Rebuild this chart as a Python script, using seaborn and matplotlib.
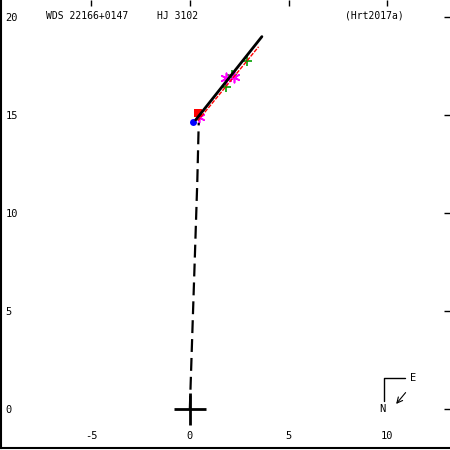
import matplotlib
matplotlib.use("Agg")
import matplotlib.pyplot as plt
import seaborn as sns
import pandas as pd

# ---- data ----
title_left = "WDS 22166+0147"
title_mid = "HJ 3102"
title_right = "(Hrt2017a)"

xticks = [-5, 0, 5, 10]
yticks = [0, 5, 10, 15, 20]

# dashed line from primary
dash_x = [0.0, 0.13, 0.25, 0.38, 0.45]
dash_y = [0.0, 4.0, 7.65, 11.7, 14.6]

# orbit (black) and alternative orbit (red)
orbit_x = [0.3, 3.65]
orbit_y = [14.75, 19.0]
orbit2_x = [0.4, 3.48]
orbit2_y = [14.7, 18.48]

# observations
green_x = [1.82, 2.12, 2.88]
green_y = [16.45, 17.05, 17.77]
mag_x = [1.82, 2.22, 0.45]
mag_y = [16.9, 16.95, 14.87]
red_x = [0.4]
red_y = [15.1]
blue_x = [0.15]
blue_y = [14.66]

sns.set_style("white")
plt.rcParams["font.family"] = ["DejaVu Sans Mono"]
plt.rcParams["text.color"] = "black"
plt.rcParams["xtick.color"] = "black"
plt.rcParams["ytick.color"] = "black"

fig = plt.figure(figsize=(4.5, 4.5), dpi=100)
ax = fig.add_axes([0.003, 0.005, 0.997, 0.995])

sns.lineplot(x=dash_x, y=dash_y, sort=False, color="black", lw=1.6,
             linestyle=(0, (5.8, 2.7)), ax=ax)
sns.lineplot(x=orbit2_x, y=orbit2_y, sort=False, color="red", lw=1,
             linestyle=(0, (3, 1)), ax=ax)
sns.lineplot(x=orbit_x, y=orbit_y, sort=False, color="black", lw=2, ax=ax)
sns.scatterplot(x=green_x, y=green_y, marker="+", s=60, color="#00a000",
                linewidth=1.2, ax=ax)
sns.scatterplot(x=mag_x, y=mag_y, marker=(6, 2, 0), s=55, color="magenta",
                linewidth=1.2, ax=ax)
sns.scatterplot(x=red_x, y=red_y, marker="s", s=35, color="red",
                linewidth=0, ax=ax)
sns.scatterplot(x=blue_x, y=blue_y, marker="o", s=25, color="blue",
                linewidth=0, ax=ax)
sns.scatterplot(x=[0], y=[0], marker="+", s=500, color="black",
                linewidth=2, ax=ax)

ax.set_xlim(-9.55, 13.18)
ax.set_ylim(-2.0, 20.87)
ax.set_xticks(xticks)
ax.set_yticks(yticks)
ax.set_xticklabels([str(v) for v in xticks])
ax.set_yticklabels([str(v) for v in yticks])
ax.set_xlabel("")
ax.set_ylabel("")

for s in ["top", "right"]:
    ax.spines[s].set_visible(False)
for s in ["left", "bottom"]:
    ax.spines[s].set_color("black")
    ax.spines[s].set_linewidth(1.5)

ax.tick_params(axis="both", direction="in", length=4, width=1, color="black",
               labelcolor="black", labelsize=7.5, top=True, right=True)
ax.tick_params(axis="x", pad=-12)
ax.tick_params(axis="y", pad=-3)
for lab in ax.get_yticklabels():
    lab.set_horizontalalignment("left")

fs = 7.0
ax.text(0.10, 0.965, title_left, transform=ax.transAxes, fontsize=fs,
        ha="left", va="center")
ax.text(0.347, 0.965, title_mid, transform=ax.transAxes, fontsize=fs,
        ha="left", va="center")
ax.text(0.765, 0.965, title_right, transform=ax.transAxes, fontsize=fs,
        ha="left", va="center")

# compass
ax.plot([0.853, 0.853, 0.900], [0.105, 0.155, 0.155], color="black",
        lw=1, transform=ax.transAxes)
ax.text(0.917, 0.155, "E", transform=ax.transAxes, fontsize=7.5,
        ha="center", va="center")
ax.text(0.849, 0.087, "N", transform=ax.transAxes, fontsize=7.5,
        ha="center", va="center")
ax.annotate("", xy=(0.876, 0.093), xytext=(0.905, 0.128),
            xycoords="axes fraction",
            arrowprops=dict(arrowstyle="->", lw=0.8, color="black"))

fig.savefig("out.png", dpi=100)
